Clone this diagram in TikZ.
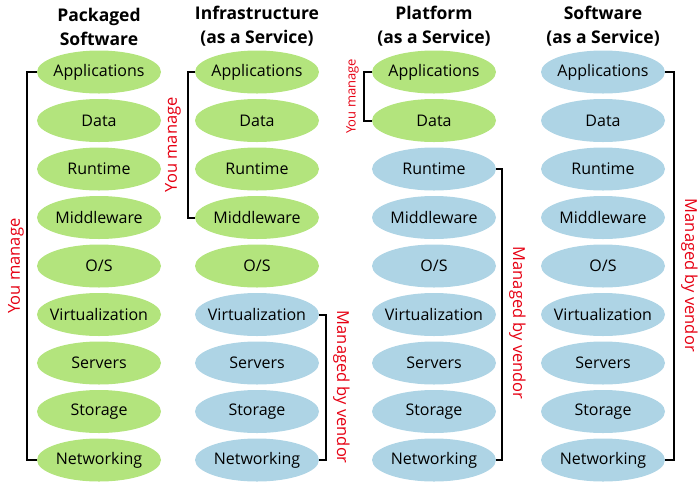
\documentclass[tikz,border=0pt]{standalone}
\usepackage{fontspec}
\setmainfont{Open Sans}
\usepackage{tikz}
\usetikzlibrary{matrix,shapes.geometric,positioning}
\usepackage{xcolor}
\definecolor{ownfill}{RGB}{179,228,125}
\definecolor{vendfill}{RGB}{174,212,229}
\definecolor{mgred}{RGB}{230,0,18}

\begin{document}
\begin{tikzpicture} [x=1pt,y=1pt,
    layer/.style={ellipse,fill=ownfill,minimum width=124pt,minimum height=43pt,
      inner xsep=-10pt,inner ysep=0pt,font=\fontsize{16}{18}\selectfont},
    vend/.style={fill=vendfill},
    head/.style={align=center,inner sep=0pt,font=\fontsize{17.5}{24}\selectfont\bfseries},
    brak/.style={line width=2pt},
    who/.style={text=mgred,anchor=south,font=\fontsize{16.5}{20}\selectfont}]
    \useasboundingbox (0,0) rectangle (700,-500);
    \matrix (m) [
      matrix of nodes,
      nodes={layer},
      row sep=5.5pt,
      column sep=34pt,
      %column sep=40pt,
      inner sep=0pt] at (351,-266)
    {
      Applications & Applications &[19pt] Applications &[11pt] |[vend]| Applications \\
      Data & Data &[19pt] Data &[11pt] |[vend]| Data \\
      Runtime & Runtime &[19pt] |[vend]| Runtime &[11pt] |[vend]| Runtime \\
      Middleware & Middleware &[19pt] |[vend]| Middleware &[11pt] |[vend]| Middleware \\
      O/S & O/S &[19pt] |[vend]| O/S &[11pt] |[vend]| O/S \\
      Virtualization & |[vend]| Virtualization &[19pt] |[vend]| Virtualization &[11pt] |[vend]| Virtualization \\
      Servers & |[vend]| Servers &[19pt] |[vend]| Servers &[11pt] |[vend]| Servers \\
      Storage & |[vend]| Storage &[19pt] |[vend]| Storage &[11pt] |[vend]| Storage \\
      Networking & |[vend]| Networking &[19pt] |[vend]| Networking &[11pt] |[vend]| Networking \\
    };

    \node[head, above=4pt of m-1-1] (t1) {Packaged\\Software};
    \node[head, above=4pt of m-1-2] (t2) {Infrastructure\\(as a Service)};
    \node[head, above=4pt of m-1-3] (t3) {Platform\\(as a Service)};
    \node[head, above=4pt of m-1-4] (t4) {Software\\(as a Service)};

    % you manage
    \draw[brak] (m-1-1.west) -- ++(-10,0)
      |- node[who,pos=0.25,rotate=90,inner sep=2pt] {You manage} (m-9-1.west);
    \draw[brak] (m-1-2.west) -- ++(-7,0)
      |- node[who,pos=0.25,rotate=90,inner sep=6pt] {You manage} (m-4-2.west);
    \draw[brak] (m-1-3.west) -- ++(-8,0)
      |- node[who,pos=0.25,rotate=90,inner sep=4pt,font=\fontsize{13}{16}\selectfont] {You manage} (m-2-3.west);

    % managed by vendor
    \draw[brak] (m-6-2.east) -- ++(7,0)
      |- node[who,pos=0.25,rotate=-90,inner sep=6pt] {Managed by vendor} (m-9-2.east);
    \draw[brak] (m-3-3.east) -- ++(6,0)
      |- node[who,pos=0.265,rotate=-90,inner sep=6pt] {Managed by vendor} (m-9-3.east);
    \draw[brak] (m-1-4.east) -- ++(9,0)
      |- node[who,pos=0.262,rotate=-90,inner sep=6pt] {Managed by vendor} (m-9-4.east);
\end{tikzpicture}
\end{document}
